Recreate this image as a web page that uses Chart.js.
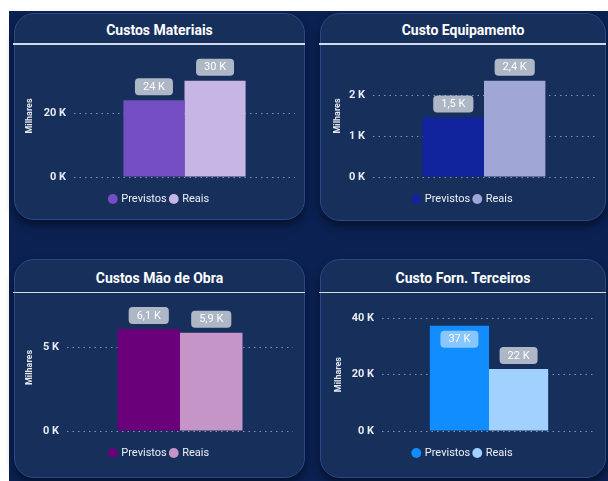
<!DOCTYPE html>
<html><head><meta charset="utf-8">
<script src="https://cdn.jsdelivr.net/npm/chart.js@4"></script>
<style>
html,body{margin:0;padding:0;}
body{width:608px;height:481px;position:relative;background:#fff;overflow:hidden;font-family:Roboto,sans-serif;}
#bg{position:absolute;left:9px;top:11px;right:0;bottom:0;background:#0b2152;}
.panel{position:absolute;box-sizing:border-box;background:#162f5b;border:1.5px solid #2b4889;border-radius:20px;box-shadow:0 5px 9px rgba(0,0,0,0.45);}
.title{position:absolute;text-align:center;color:#fff;font-weight:bold;font-size:14px;font-family:Roboto,sans-serif;line-height:20px;}
.rule{position:absolute;height:1.5px;background:#d3dbea;}
canvas{position:absolute;}
</style></head>
<body>
<div id="bg"></div>
<div id="root"></div>
<script>
// ---- data ----
const chartTitles = ['Custos Materiais', 'Custo Equipamento', 'Custos Mão de Obra', 'Custo Forn. Terceiros'];
const seriesNames = ['Previstos', 'Reais'];
const previstos = [24200, 1460, 6120, 37400];
const reais = [30400, 2360, 5900, 22000];
const axisMax = [38500, 2990, 7620, 40000];
const yTicks = [[0, 20000], [0, 1000, 2000], [0, 5000], [0, 20000, 40000]];
const axisTitle = 'Milhares';

// ---- styles / layout ----
const prevColors = ['#744EC2', '#12239E', '#6B007B', '#118DFF'];
const realColors = ['#C7B5E6', '#A0A6D6', '#C495C6', '#A0D1FF'];
const panelBoxes = [
  {x:14, y:13, w:291, h:207, titleY:20, ruleY:43},
  {x:320, y:13, w:286, h:208, titleY:20, ruleY:43},
  {x:14, y:259, w:291, h:219, titleY:267.5, ruleY:291.5},
  {x:320, y:259, w:286, h:219, titleY:267.5, ruleY:291.5}
];
const canvasBoxes = [
  {x:14, y:40, w:291, h:180, padT:15, padB:5.5, yW:60, padR:10, tPad:10.6},
  {x:320, y:40, w:286, h:180, padT:15, padB:5.5, yW:53, padR:11, tPad:12.6},
  {x:14, y:289, w:291, h:188, padT:15, padB:8.5, yW:53, padR:12, tPad:10.6},
  {x:320, y:294, w:286, h:183, padT:24.3, padB:8.5, yW:62, padR:10, tPad:13.6}
];

Chart.defaults.font.family = 'Roboto, sans-serif';

function fmtK(v) {
  const k = v / 1000;
  const s = k >= 10 ? String(Math.round(k)) : k.toFixed(1).replace('.', ',');
  return s + ' K';
}

const labelPlugin = {
  id: 'barLabels',
  afterDatasetsDraw(chart) {
    const ctx = chart.ctx, area = chart.chartArea;
    ctx.save();
    ctx.font = '11px Roboto, sans-serif';
    chart.data.datasets.forEach((ds, di) => {
      const meta = chart.getDatasetMeta(di);
      meta.data.forEach((bar, i) => {
        const txt = fmtK(ds.data[i]);
        const tw = ctx.measureText(txt).width;
        const w = tw + 16, h = 17;
        const inside = bar.y - area.top < 12;
        const top = inside ? bar.y + 5 : bar.y - 5 - h;
        ctx.fillStyle = inside ? 'rgba(255,255,255,0.5)' : 'rgba(208,213,222,0.82)';
        ctx.beginPath();
        ctx.roundRect(bar.x - w / 2, top, w, h, 4);
        ctx.fill();
        ctx.fillStyle = '#ffffff';
        ctx.textAlign = 'center';
        ctx.textBaseline = 'middle';
        ctx.fillText(txt, bar.x, top + h / 2 + 0.5);
      });
    });
    ctx.restore();
  }
};

const root = document.getElementById('root');
chartTitles.forEach((t, i) => {
  const p = panelBoxes[i];
  const pd = document.createElement('div');
  pd.className = 'panel';
  Object.assign(pd.style, {left: p.x + 'px', top: p.y + 'px', width: p.w + 'px', height: p.h + 'px'});
  root.appendChild(pd);
  const td = document.createElement('div');
  td.className = 'title';
  td.textContent = t;
  Object.assign(td.style, {left: p.x + 'px', top: p.titleY + 'px', width: p.w + 'px'});
  root.appendChild(td);
  const rd = document.createElement('div');
  rd.className = 'rule';
  Object.assign(rd.style, {left: (p.x - 1) + 'px', top: p.ruleY + 'px', width: (p.w + 1) + 'px'});
  root.appendChild(rd);

  const c = canvasBoxes[i];
  const cv = document.createElement('canvas');
  cv.width = c.w; cv.height = c.h;
  Object.assign(cv.style, {left: c.x + 'px', top: c.y + 'px', width: c.w + 'px', height: c.h + 'px'});
  root.appendChild(cv);

  new Chart(cv, {
    type: 'bar',
    data: {
      labels: [t],
      datasets: [
        {label: seriesNames[0], data: [previstos[i]], backgroundColor: prevColors[i]},
        {label: seriesNames[1], data: [reais[i]], backgroundColor: realColors[i]}
      ]
    },
    options: {
      responsive: false,
      animation: false,
      devicePixelRatio: 1,
      layout: {padding: {top: c.padT, bottom: c.padB, left: 0, right: 0}},
      datasets: {bar: {categoryPercentage: 0.553, barPercentage: 1, borderWidth: 0}},
      plugins: {
        tooltip: {enabled: false},
        legend: {
          position: 'bottom',
          labels: {
            usePointStyle: true, pointStyle: 'circle',
            boxWidth: 6, boxHeight: 7, padding: 4,
            color: '#eef1f7',
            font: {size: 11}
          }
        }
      },
      scales: {
        x: {
          display: true,
          grid: {display: false},
          ticks: {display: false},
          border: {display: false},
          afterFit(s) { s.height = 12.5; }
        },
        y: {
          min: 0, max: axisMax[i],
          grid: {drawTicks: false, color: 'rgba(205,214,232,0.6)', lineWidth: 1},
          border: {display: false, dash: [1.5, 4]},
          afterBuildTicks(s) { s.ticks = yTicks[i].map(v => ({value: v})); },
          ticks: {
            padding: 8,
            color: '#e8ebf2', font: {size: 11, weight: 'bold'},
            callback: v => (v / 1000) + ' K'
          },
          title: {
            display: true, text: axisTitle, color: '#e8ebf2',
            font: {size: 9, weight: 'bold'},
            padding: {top: c.tPad, bottom: 0}
          },
          afterFit(s) { s.width = c.yW; }
        },
        yR: {
          position: 'right', display: true,
          grid: {display: false}, ticks: {display: false}, border: {display: false},
          afterFit(s) { s.width = c.padR; }
        }
      }
    },
    plugins: [labelPlugin]
  });
});
</script>
</body></html>
